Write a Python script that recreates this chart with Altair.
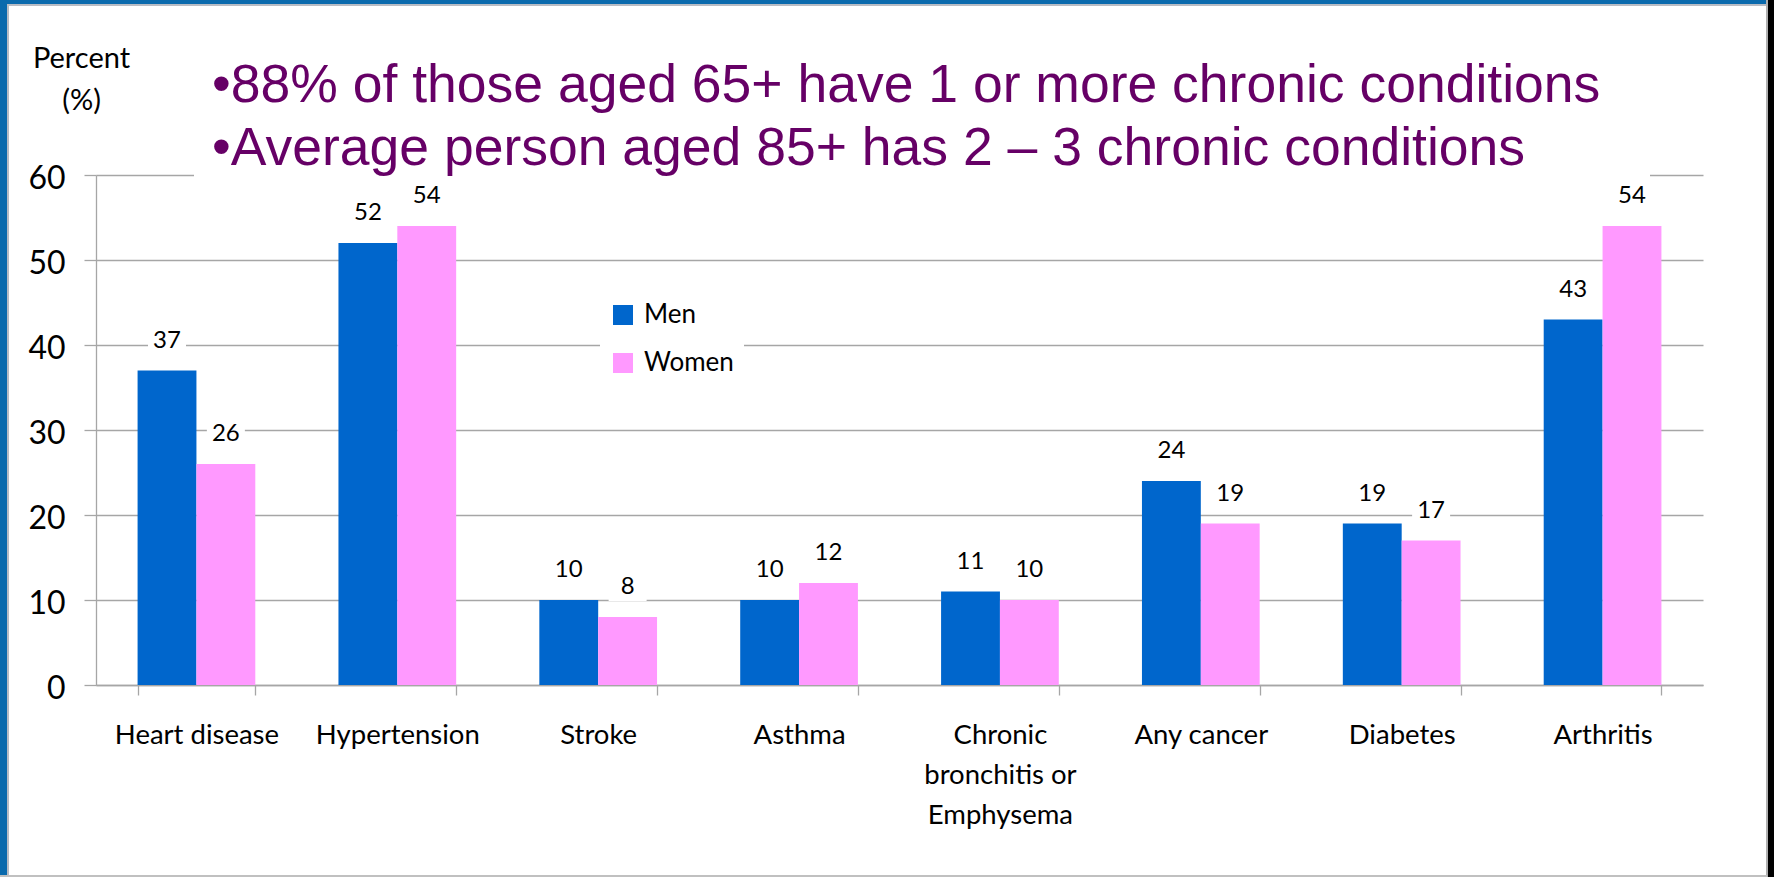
import altair as alt
import pandas as pd

# Prevalence of chronic conditions among people aged 65+, by sex (percent)
categories = [
    "Heart disease", "Hypertension", "Stroke", "Asthma",
    "Chronic bronchitis or Emphysema", "Any cancer", "Diabetes", "Arthritis",
]
men = [37, 52, 10, 10, 11, 24, 19, 43]
women = [26, 54, 8, 12, 10, 19, 17, 54]
series = ["Men", "Women"]
series_colors = ["#0066CC", "#FF99FF"]
y_ticks = [0, 10, 20, 30, 40, 50, 60]
headline = [
    "\u202288% of those aged 65+ have 1 or more chronic conditions",
    "\u2022Average person aged 85+ has 2 \u2013 3 chronic conditions",
]

rows = []
for cat, m, w in zip(categories, men, women):
    rows.append({"condition": cat, "sex": "Men", "pct": m})
    rows.append({"condition": cat, "sex": "Women", "pct": w})
df = pd.DataFrame(rows)

W, H = 1607, 510
LEFT, TOP = 96, 175
GRID = "#a6a6a6"
BODY_FONT = "Lato"

x_enc = alt.X(
    "condition:N",
    sort=categories,
    scale=alt.Scale(paddingInner=0.414, paddingOuter=0.207),
    axis=alt.Axis(
        title=None,
        labelAngle=0,
        labelFont=BODY_FONT,
        labelFontSize=27.5,
        labelColor="black",
        labelBaseline="alphabetic",
        labelPadding=48,
        labelLineHeight=40,
        labelLimit=0,
        labelExpr="datum.label == 'Chronic bronchitis or Emphysema' ? "
                  "['Chronic', 'bronchitis or', 'Emphysema'] : datum.label",
        tickBand="extent",
        tickSize=10,
        tickColor=GRID,
        tickWidth=1.3,
        domainColor=GRID,
        domainWidth=1.3,
        grid=False,
    ),
)
x_off = alt.XOffset("sex:N", sort=series, scale=alt.Scale(paddingInner=0, paddingOuter=0))
y_enc = alt.Y(
    "pct:Q",
    scale=alt.Scale(domain=[0, 60], nice=False),
    axis=alt.Axis(
        values=y_ticks,
        title=["Percent", "(%)"],
        titleAngle=0,
        titleX=-15,
        titleY=-108,
        titleAlign="center",
        titleBaseline="alphabetic",
        titleLineHeight=42,
        titleFont=BODY_FONT,
        titleFontSize=29,
        titleFontWeight="normal",
        titleColor="black",
        labelFont=BODY_FONT,
        labelFontSize=32,
        labelColor="black",
        labelPadding=19,
        labelOffset=3,
        tickSize=12,
        tickColor=GRID,
        tickWidth=1.3,
        domainColor=GRID,
        domainWidth=1.3,
        gridColor=GRID,
        gridWidth=1.3,
    ),
)

bars = alt.Chart(df).mark_bar(strokeWidth=0).encode(
    x=x_enc,
    xOffset=x_off,
    y=y_enc,
    color=alt.Color(
        "sex:N",
        sort=series,
        scale=alt.Scale(domain=series, range=series_colors),
        title=None,
        legend=alt.Legend(
            orient="none",
            legendX=504,
            legendY=117,
            fillColor="white",
            padding=10,
            symbolType="square",
            symbolSize=400,
            symbolStrokeWidth=0,
            symbolOpacity=1,
            labelFont=BODY_FONT,
            labelFontSize=26,
            labelColor="black",
            labelOffset=8,
            rowPadding=22,
        ),
    ),
)

# white backing behind each value label
label_boxes = alt.Chart(df).mark_bar(
    color="white", width=38, yOffset=-42, y2Offset=-16
).encode(
    x=alt.X("condition:N", sort=categories),
    xOffset=alt.XOffset("sex:N", sort=series),
    y="pct:Q",
    y2="pct",
)

labels = alt.Chart(df).mark_text(
    font=BODY_FONT, fontSize=24, color="black", baseline="middle", dy=-30
).encode(
    x=alt.X("condition:N", sort=categories),
    xOffset=alt.XOffset("sex:N", sort=series),
    y="pct:Q",
    text="pct:Q",
)

one = alt.Data(values=[{"k": 0}])

# white band behind the headline, hiding the top gridline
headline_box = alt.Chart(one).mark_rect(color="white").encode(
    x=alt.value(98), x2=alt.value(1554), y=alt.value(-8), y2=alt.value(8)
)
headline_text = alt.Chart(one).mark_text(
    text=headline,
    font="Liberation Sans",
    fontSize=53.5,
    lineHeight=63,
    color="#660066",
    align="left",
    baseline="alphabetic",
).encode(x=alt.value(116), y=alt.value(-73))

# slide frame: blue top and left edges, dark right edge, grey bottom rule
frame_left = alt.Chart(one).mark_rect(color="#0A6AAD").encode(
    x=alt.value(-LEFT), x2=alt.value(-LEFT + 7), y=alt.value(-TOP), y2=alt.value(877 - TOP)
)
frame_top = alt.Chart(one).mark_rect(color="#0A6AAD").encode(
    x=alt.value(-LEFT), x2=alt.value(1774 - LEFT), y=alt.value(-TOP), y2=alt.value(-TOP + 4)
)
frame_inner_top = alt.Chart(one).mark_rect(color="#b8bcc4").encode(
    x=alt.value(-LEFT + 7), x2=alt.value(1767 - LEFT), y=alt.value(-TOP + 4), y2=alt.value(-TOP + 6)
)
frame_inner_left = alt.Chart(one).mark_rect(color="#b8bcc4").encode(
    x=alt.value(-LEFT + 7), x2=alt.value(-LEFT + 9), y=alt.value(-TOP + 4), y2=alt.value(877 - TOP)
)
frame_right = alt.Chart(one).mark_rect(color="black").encode(
    x=alt.value(1768 - LEFT), x2=alt.value(1774 - LEFT), y=alt.value(-TOP), y2=alt.value(877 - TOP)
)
frame_right_rule = alt.Chart(one).mark_rect(color="#b0b0b0").encode(
    x=alt.value(1766 - LEFT), x2=alt.value(1768 - LEFT), y=alt.value(-TOP), y2=alt.value(877 - TOP)
)
frame_bottom = alt.Chart(one).mark_rect(color="#c0c0c0").encode(
    x=alt.value(-LEFT), x2=alt.value(1767 - LEFT), y=alt.value(875 - TOP), y2=alt.value(877 - TOP)
)

chart = alt.layer(
    bars,
    label_boxes,
    labels,
    headline_box,
    headline_text,
    frame_left,
    frame_top,
    frame_inner_top,
    frame_inner_left,
    frame_right,
    frame_right_rule,
    frame_bottom,
).properties(
    width=W,
    height=H,
    autosize=alt.AutoSizeParams(type="none"),
    padding={"left": LEFT, "top": TOP, "right": 1774 - LEFT - W, "bottom": 877 - TOP - H},
    background="white",
).configure_view(
    stroke=None
)

chart.save("out.html", embed_options={"renderer": "svg", "actions": False})
